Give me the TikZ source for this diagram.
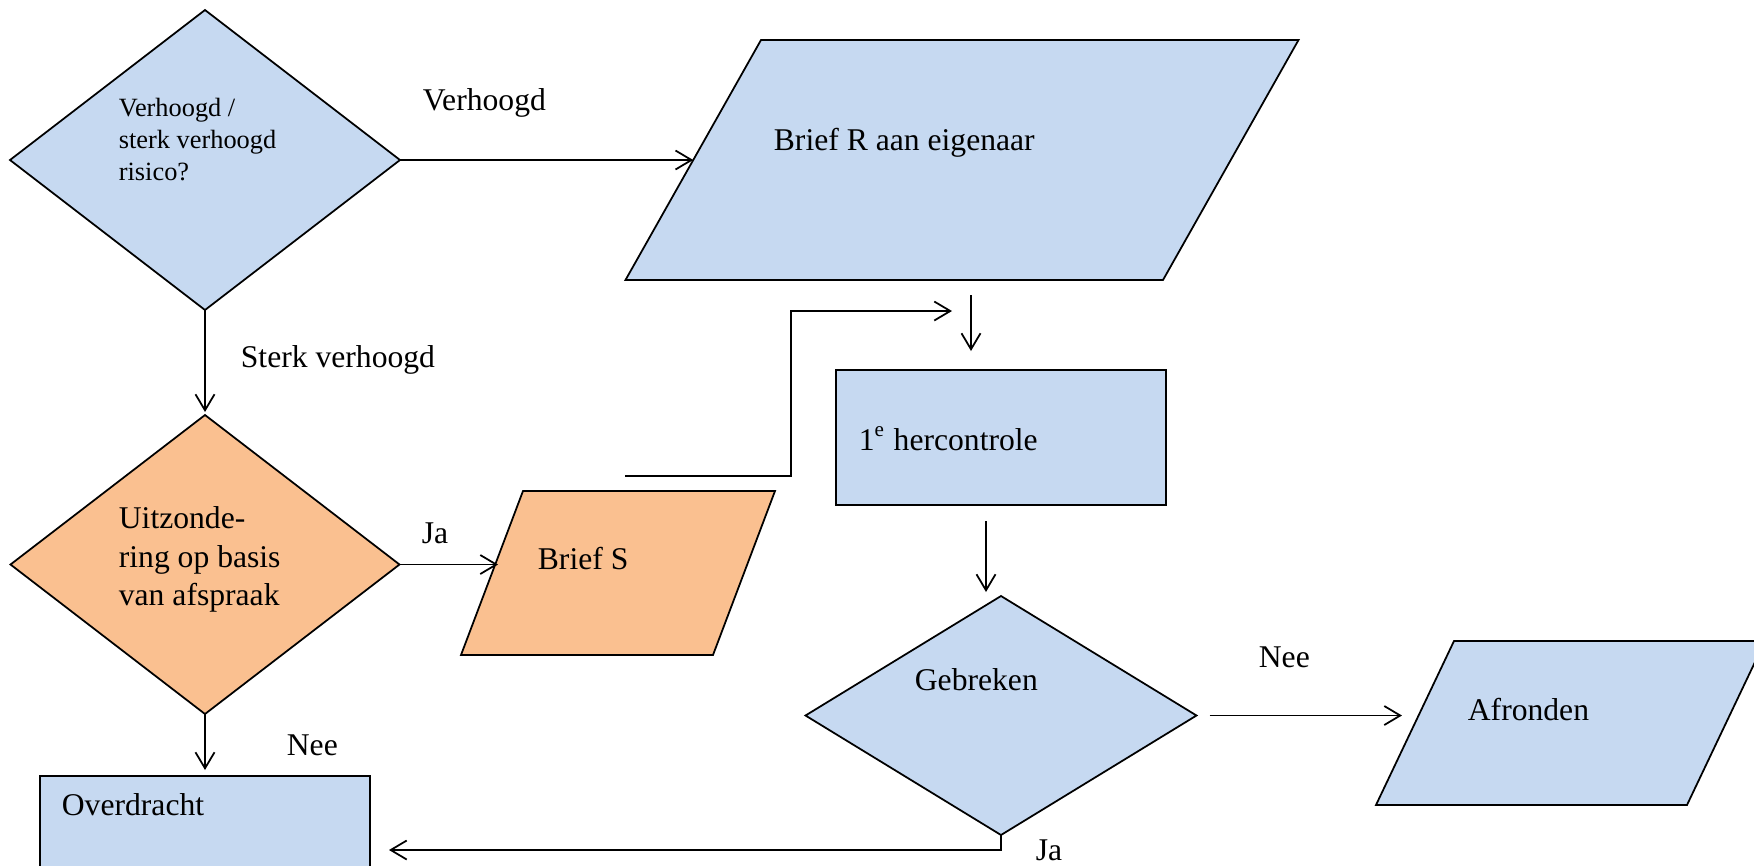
\documentclass[tikz,border=0pt]{standalone}
\usepackage{fontspec}
\setmainfont{Liberation Serif}
\usetikzlibrary{shapes.geometric,arrows.meta,positioning}
\definecolor{boxblue}{HTML}{C6D9F1}
\definecolor{boxorange}{HTML}{FAC090}

\begin{document}
\begin{tikzpicture}[line width=0.5pt, >={Straight Barb[length=1.6mm,width=1.9mm]},
		every node/.style={font=\fontsize{9}{10.9}\selectfont},
		decision/.style={diamond,draw,fill=boxblue,inner sep=0pt,outer sep=0pt},
		io/.style={trapezium,draw,fill=boxblue,outer sep=0pt},
		process/.style={rectangle,draw,fill=boxblue,inner sep=0pt,outer sep=0pt},
		txt/.style={inner sep=0pt,anchor=base west}]
		
		\useasboundingbox (0,0) rectangle (17.54,-8.65);
		
		\node[decision, minimum width=3.90cm, minimum height=3.00cm] (risk) at (2.05,-1.60) {};
		\node[decision, fill=boxorange, minimum width=3.89cm, minimum height=2.99cm] (uitz) [below=1.05cm of risk] {};
		\node[process, minimum width=3.30cm, minimum height=1.35cm] (ovd) [below=0.62cm of uitz] {};
		\node[io, trapezium left angle=60.55, trapezium right angle=119.45,
			inner xsep=2.01cm, inner ysep=1.20cm] (briefr) at (9.62,-1.60) {};
		\node[io, fill=boxorange, trapezium left angle=69.29, trapezium right angle=110.71,
			inner xsep=0.95cm, inner ysep=0.82cm] (briefs) at (6.18,-5.73) {};
		\node[process, minimum width=3.30cm, minimum height=1.35cm] (herc) at (10.01,-4.375) {};
		\node[decision, minimum width=3.91cm, minimum height=2.39cm] (gebr) [below=0.91cm of herc] {};
		\node[io, trapezium left angle=64.56, trapezium right angle=115.44,
			inner xsep=1.165cm, inner ysep=0.82cm] (afr) at (15.705,-7.23) {};
		
		% texts in the shapes
		\node[txt, anchor=north west, align=left, font=\fontsize{7.5}{9.1}\selectfont] (risktxt) at (1.18,-0.97) {Verhoogd /\\sterk verhoogd\\risico?};
		\node[txt, anchor=north west, align=left] (uitztxt) at (1.18,-5.06) {Uitzonde-\\ring op basis\\van afspraak};
		\node[txt] (briefrtxt) at (7.73,-1.50) {Brief R aan eigenaar};
		\node[txt] (briefstxt) at (5.37,-5.69) {Brief S};
		\node[txt] (herctxt) at (8.58,-4.50) {1\textsuperscript{e} hercontrole};
		\node[txt] (gebrtxt) at (9.14,-6.90) {Gebreken};
		\node[txt] (afrtxt) at (14.67,-7.20) {Afronden};
		\node[txt] (ovdtxt) at (0.61,-8.15) {Overdracht};
		
		% labels
		\node[txt] (lverh) at (4.22,-1.10) {Verhoogd};
		\node[txt] (lsterk) at (2.40,-3.67) {Sterk verhoogd};
		\node[txt] (lja) at (4.21,-5.43) {Ja};
		\node[txt] (lnee) at (2.86,-7.55) {Nee};
		\node[txt] (lneegebr) at (12.58,-6.67) {Nee};
		\node[txt] (ljagebr) at (10.35,-8.60) {Ja};
		
		\coordinate (sstart) at (6.25,-4.76);
		\coordinate (send) at (9.52,-3.11);
		\coordinate (rstart) at (9.71,-2.95);
		
		\path[->]
		(risk.east) edge (briefr)
		(risk.south) edge ([yshift=0.3mm]uitz.north)
		(uitz.east) edge ([xshift=0.6mm]uitz.east -| briefs.west)
		(uitz.south) edge ([yshift=0.6mm]ovd.north)
		(rstart) edge ([yshift=1.9mm]herc.north -| rstart)
		([xshift=-1.5mm,yshift=-1.6mm]herc.south) edge ([xshift=-1.5mm,yshift=0.4mm]gebr.north)
		([xshift=1.3mm]gebr.east) edge ([xshift=-1.3mm]gebr.east -| afr.west);
		
		\draw[->] (sstart) -| ([xshift=-1.61cm]send) -- (send);
		\draw[->] (gebr.south) |- ([xshift=1.9mm,yshift=-0.65mm]ovd.east);
		
	\end{tikzpicture}
\end{document}
